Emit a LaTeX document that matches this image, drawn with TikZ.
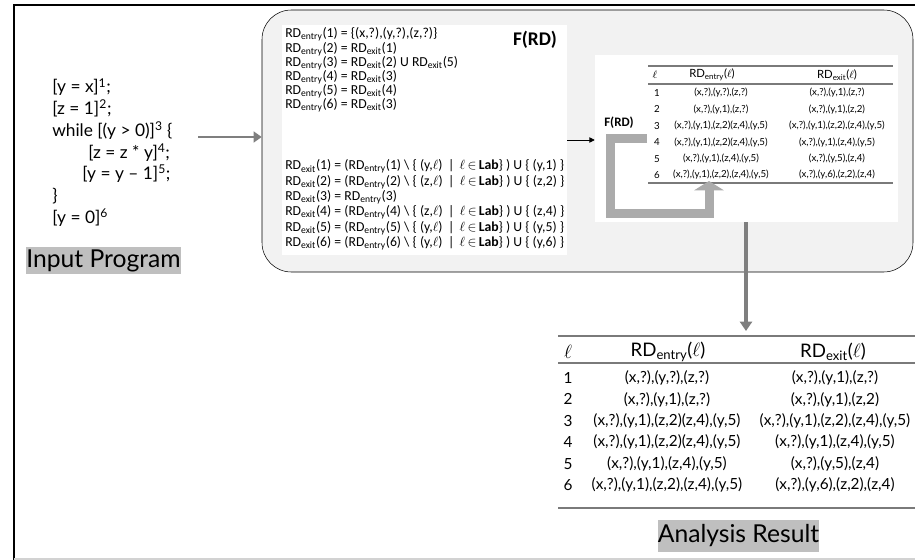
\documentclass[tikz,border=0pt]{standalone}
\usepackage{fontspec}
\setmainfont{Lato}
\newfontfamily\eqfont{Carlito}
\usetikzlibrary{arrows.meta}

\definecolor{boxgray}{HTML}{F2F2F2}
\definecolor{markgray}{HTML}{BFBFBF}
\definecolor{arrowgray}{HTML}{7F7F7F}
\definecolor{loopgray}{HTML}{ABABAB}
\definecolor{rulegray}{HTML}{7A7A7A}

\newcommand{\RDen}{RD\textsubscript{entry}}
\newcommand{\RDex}{RD\textsubscript{exit}}
\newcommand{\killset}[1]{\textbackslash\ \{ (#1,$\ell$) \,|\, $\ell$\,$\in$\,\textbf{Lab}\} )}

\begin{document}
\begin{tikzpicture}[x=0.75pt,y=-0.75pt,
  prog/.style={anchor=base west,inner sep=0pt,font=\fontsize{13}{16}\selectfont},
  marked/.style={fill=markgray,inner xsep=0pt,inner ysep=1pt,font=\fontsize{18.5}{20}\selectfont},
  eqs/.style={anchor=base west,inner sep=0pt,font=\eqfont\fontsize{10.3}{12}\selectfont},
  bigcell/.style={inner sep=0pt,font=\fontsize{11.5}{13}\selectfont},
  smallcell/.style={inner sep=0pt,font=\fontsize{7.3}{8}\selectfont}]

\useasboundingbox (0,0) rectangle (915,560);

% frame
\draw[line width=1.5pt] (14,560) -- (14,5) -- (916,5);
\draw[gray!35,line width=1pt] (14,559) -- (915,559);

% boxes
\node (frd) [draw,fill=boxgray,rounded corners=22pt,minimum width=488.25pt,minimum height=196.5pt] at (587.5,141) {};
\node (eqbox) [fill=white,minimum width=213.75pt,minimum height=172.5pt] at (424.5,140) {};
\node (tabbox) [fill=white,minimum width=227.25pt,minimum height=125.25pt] at (746.5,138.5) {};

% input program
\node (p1) [prog] at (52,93) {[y = x]\textsuperscript{1};};
\node (p2) [prog] at (52,114.7) {[z = 1]\textsuperscript{2};};
\node (p3) [prog] at (52,136.4) {while [(y > 0)]\textsuperscript{3} \{};
\node (p4) [prog] at (88,158.1) {[z = z * y]\textsuperscript{4};};
\node (p5) [prog] at (82,179.8) {[y = y -- 1]\textsuperscript{5};};
\node (p6) [prog] at (52,201.5) {\}};
\node (p7) [prog] at (52,223.2) {[y = 0]\textsuperscript{6}};
\node (progname) [marked,minimum width=114.75pt,minimum height=20pt] at (103.5,260.5) {Input Program};
\coordinate (progout) at (198,137);

% equations
\foreach \t [count=\i from 0] in {
  {\RDen(1) = \{(x,?),(y,?),(z,?)\}},
  {\RDen(2) = \RDex(1)},
  {\RDen(3) = \RDex(2) U \RDex(5)},
  {\RDen(4) = \RDex(3)},
  {\RDen(5) = \RDex(4)},
  {\RDen(6) = \RDex(3)}} {
  \node (entry\i) [eqs] at (285,38+14.15*\i) {\t};
}
\foreach \t [count=\i from 0] in {
  {\RDex(1) = (\RDen(1) \killset{y} U \{ (y,1) \}},
  {\RDex(2) = (\RDen(2) \killset{z} U \{ (z,2) \}},
  {\RDex(3) = \RDen(3)},
  {\RDex(4) = (\RDen(4) \killset{z} U \{ (z,4) \}},
  {\RDex(5) = (\RDen(5) \killset{y} U \{ (y,5) \}},
  {\RDex(6) = (\RDen(6) \killset{y} U \{ (y,6) \}}} {
  \node (exit\i) [eqs] at (285,170+15.3*\i) {\t};
}
\node (frdname) [font=\eqfont\bfseries\fontsize{14.5}{16}\selectfont] at (535,40) {F(RD)};

% small table
\node (loopname) [font=\eqfont\bfseries\fontsize{9.7}{11}\selectfont] at (619,123) {F(RD)};
\draw[rulegray,line width=0.8pt] (648,66) -- (893,66);
\draw[rulegray,line width=0.8pt] (648,84) -- (893,84);
\draw[rulegray,line width=0.8pt] (648,183) -- (893,183);
\node (sl) [smallcell,font=\fontsize{8.5}{9}\selectfont] at (655,75) {$\ell$};
\node (sen) [smallcell,font=\fontsize{8.5}{9}\selectfont] at (712,75) {\RDen($\ell$)};
\node (sex) [smallcell,font=\fontsize{8.5}{9}\selectfont] at (837,75) {\RDex($\ell$)};
\foreach \n/\en/\ex [count=\i from 0] in {
  1/{(x,?),(y,?),(z,?)}/{(x,?),(y,1),(z,?)},
  2/{(x,?),(y,1),(z,?)}/{(x,?),(y,1),(z,2)},
  3/{(x,?),(y,1),(z,2)(z,4),(y,5)}/{(x,?),(y,1),(z,2),(z,4),(y,5)},
  4/{(x,?),(y,1),(z,2)(z,4),(y,5)}/{(x,?),(y,1),(z,4),(y,5)},
  5/{(x,?),(y,1),(z,4),(y,5)}/{(x,?),(y,5),(z,4)},
  6/{(x,?),(y,1),(z,2),(z,4),(y,5)}/{(x,?),(y,6),(z,2),(z,4)}} {
  \node (s\n) [smallcell] at (657,93+16.4*\i) {\n};
  \node (s\n en) [smallcell] at (721,93+16.4*\i) {\en};
  \node (s\n ex) [smallcell] at (837,93+16.4*\i) {\ex};
}

% result table
\draw[rulegray,line width=1.1pt] (558,336) -- (916,336);
\draw[rulegray,line width=1.1pt] (558,363) -- (916,363);
\draw[rulegray,line width=1.1pt] (558,508) -- (916,508);
\node (rl) [bigcell,font=\fontsize{14}{15}\selectfont] at (568,352) {$\ell$};
\node (ren) [bigcell,font=\fontsize{14}{15}\selectfont] at (668,352) {\RDen($\ell$)};
\node (rex) [bigcell,font=\fontsize{14}{15}\selectfont] at (833,352) {\RDex($\ell$)};
\foreach \n/\en/\ex [count=\i from 0] in {
  1/{(x,?),(y,?),(z,?)}/{(x,?),(y,1),(z,?)},
  2/{(x,?),(y,1),(z,?)}/{(x,?),(y,1),(z,2)},
  3/{(x,?),(y,1),(z,2)(z,4),(y,5)}/{(x,?),(y,1),(z,2),(z,4),(y,5)},
  4/{(x,?),(y,1),(z,2)(z,4),(y,5)}/{(x,?),(y,1),(z,4),(y,5)},
  5/{(x,?),(y,1),(z,4),(y,5)}/{(x,?),(y,5),(z,4)},
  6/{(x,?),(y,1),(z,2),(z,4),(y,5)}/{(x,?),(y,6),(z,2),(z,4)}} {
  \node (r\n) [bigcell] at (568,378+21.4*\i) {\n};
  \node (r\n en) [bigcell] at (667,378+21.4*\i) {\en};
  \node (r\n ex) [bigcell] at (835,378+21.4*\i) {\ex};
}
\node (resname) [marked,minimum width=120.75pt,minimum height=24pt] at (738.5,536) {Analysis Result};
\coordinate (resin) at (746,331);

% arrows
\draw[arrowgray,line width=2.2pt,-{Triangle[width=8pt,length=6pt]}] (progout) -- (progout -| frd.west);
\draw[line width=0.6pt,-{Triangle[width=4pt,length=4pt]}] (eqbox.east) -- (eqbox.east -| tabbox.west);
\draw[loopgray,line width=6.75pt,-{Triangle[width=22pt,length=7pt]}] (647,139) -- (610,139) -- (610,213) -- (709,213) -- (709,181);
\draw[arrowgray,line width=3pt,-{Triangle[width=9pt,length=7pt]}] (tabbox.south -| resin) -- (resin);
\end{tikzpicture}
\end{document}
